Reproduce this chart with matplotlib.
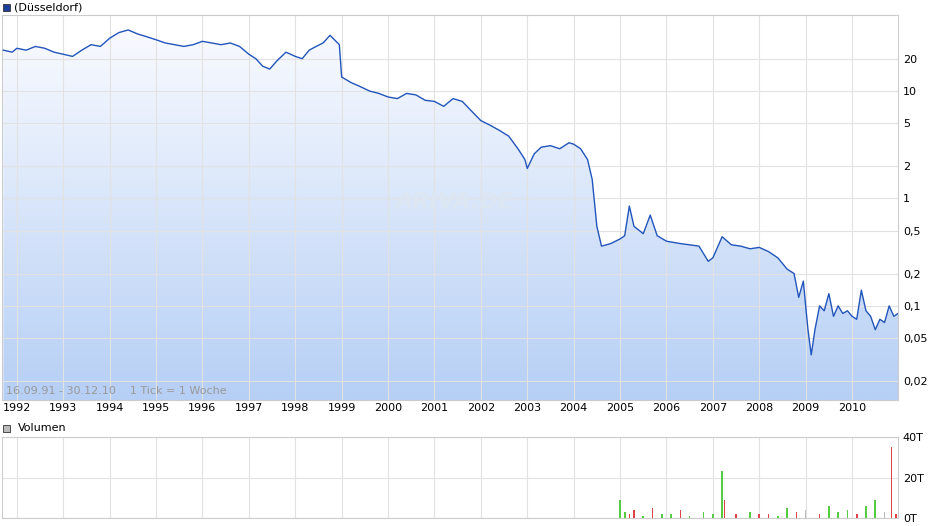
import matplotlib
matplotlib.use("Agg")
import matplotlib.pyplot as plt
import numpy as np
from matplotlib.colors import LinearSegmentedColormap

# price data (year fraction, price)
t = [1991.71,1991.9,1992.0,1992.2,1992.4,1992.6,1992.8,1993.0,1993.2,1993.4,1993.6,1993.8,1994.0,1994.2,1994.4,1994.6,
     1994.8,1995.0,1995.2,1995.4,1995.6,1995.8,1996.0,1996.2,1996.4,1996.6,1996.8,1997.0,1997.15,1997.3,1997.45,1997.6,
     1997.8,1998.0,1998.15,1998.3,1998.45,1998.6,1998.75,1998.95,1999.0,1999.2,1999.4,1999.6,1999.8,2000.0,2000.2,2000.4,
     2000.6,2000.8,2001.0,2001.2,2001.4,2001.6,2001.8,2002.0,2002.2,2002.4,2002.6,2002.8,2002.95,2003.0,2003.15,2003.3,
     2003.5,2003.7,2003.9,2004.0,2004.15,2004.3,2004.4,2004.5,2004.6,2004.8,2005.0,2005.1,2005.2,2005.3,2005.5,2005.65,
     2005.8,2006.0,2006.3,2006.5,2006.7,2006.9,2007.0,2007.2,2007.4,2007.6,2007.8,2008.0,2008.2,2008.4,2008.6,2008.75,
     2008.85,2008.95,2009.0,2009.05,2009.12,2009.2,2009.3,2009.4,2009.5,2009.6,2009.7,2009.8,2009.9,2010.0,2010.1,2010.2,
     2010.3,2010.4,2010.5,2010.6,2010.7,2010.8,2010.9,2010.99]
p = [24,23,25,24,26,25,23,22,21,24,27,26,31,35,37,34,
     32,30,28,27,26,27,29,28,27,28,26,22,20,17,16,19,
     23,21,20,24,26,28,33,27,13.5,12,11,10,9.5,8.8,8.5,9.5,
     9.2,8.2,8.0,7.2,8.5,8.0,6.5,5.3,4.8,4.3,3.8,2.9,2.3,1.9,2.6,3.0,
     3.1,2.9,3.3,3.2,2.9,2.3,1.5,0.55,0.36,0.38,0.42,0.45,0.85,0.55,0.47,0.7,
     0.45,0.40,0.38,0.37,0.36,0.26,0.28,0.44,0.37,0.36,0.34,0.35,0.32,0.28,0.22,0.20,
     0.12,0.17,0.10,0.06,0.035,0.06,0.10,0.09,0.13,0.08,0.10,0.085,0.09,0.08,0.075,0.14,
     0.09,0.08,0.06,0.075,0.07,0.10,0.08,0.085]

# volume data (year fraction, volume in T, colour code)
vt = [2005.0,2005.1,2005.2,2005.3,2005.5,2005.7,2005.9,2006.1,2006.3,2006.5,2006.8,2007.0,2007.2,2007.25,
      2007.5,2007.8,2008.0,2008.2,2008.4,2008.6,2008.8,2009.0,2009.3,2009.5,2009.7,2009.9,2010.1,2010.3,2010.5,
      2010.7,2010.85,2010.95]
vv = [9,3,2,4,1,5,2,2,4,1,3,2,23,9,2,3,2,2,1,5,3,4,2,6,3,4,2,6,9,3,35,2]
vc = ['g','g','r','r','g','r','g','g','r','g','g','g','g','r','r','g','r','r','g','g','r','grey','r','g','g','g','r','g','g','grey','r','r']
cmap = {'g':'#55cc44','r':'#dd4444','grey':'#bbbbbb'}

fig = plt.figure(figsize=(9.4,5.26), dpi=100)
ax = fig.add_axes([2/940, 1-400/526, 896/940, 385/526])
axv = fig.add_axes([2/940, 1-518/526, 896/940, 81/526])

ax.set_yscale('log')
ax.set_xlim(1991.68, 2010.99)
ax.set_ylim(0.0133, 51)
grad = np.linspace(0,1,256).reshape(-1,1)
cm = LinearSegmentedColormap.from_list('b',['#b6cff5','#fbfcff'])
im = ax.imshow(grad, aspect='auto', cmap=cm, origin='lower',
               extent=[0,1,0,1], transform=ax.transAxes, zorder=0)
poly = ax.fill_between(t, p, 0.0133, color='none')
im.set_clip_path(poly.get_paths()[0], transform=ax.transData)
ax.plot(t, p, color='#2255bb', lw=1, zorder=3)
ax.set_xlim(1991.68, 2010.99)
ax.set_ylim(0.0133, 51)

yt = [0.02,0.05,0.1,0.2,0.5,1,2,5,10,20]
yl = ['0,02','0,05','0,1','0,2','0,5','1','2','5','10','20']
years = list(range(1992,2011))
for a in (ax, axv):
    a.set_xticks(years)
    a.grid(True, color='#e2e2e2', lw=0.8)
    a.set_axisbelow(True)
    a.tick_params(length=0, labelsize=8)
    a.yaxis.tick_right()
    for s in a.spines.values():
        s.set_color('#cccccc')
ax.set_yticks(yt); ax.set_yticklabels(yl)
ax.yaxis.set_minor_locator(matplotlib.ticker.NullLocator())
ax.set_xticklabels([str(y) for y in years])
ax.tick_params(axis='x', pad=2)
ax.text(0.005, 0.015, '16.09.91 - 30.12.10    1 Tick = 1 Woche', transform=ax.transAxes,
        fontsize=8, color='#999999', zorder=4)
ax.text(0.505, 0.515, 'ARIVA.DE', transform=ax.transAxes, fontsize=16, color='#dde6f3',
        fontstyle='italic', fontweight='bold', ha='center', va='center', zorder=1)

axv.set_xlim(1991.68, 2010.99)
axv.set_ylim(0, 40)
axv.bar(vt, vv, width=0.035, color=[cmap[c] for c in vc])
axv.set_yticks([0,20,40]); axv.set_yticklabels(['0T','20T','40T'])
axv.set_xticklabels([])

fig.patches.append(matplotlib.patches.Rectangle((3/940,1-11/526),7/940,7/526,transform=fig.transFigure,
                   facecolor='#1a3f99', edgecolor='#333333', lw=0.6))
fig.text(14/940, 1-7/526, '(Düsseldorf)', fontsize=8, va='center')
fig.patches.append(matplotlib.patches.Rectangle((3/940,1-432/526),7/940,7/526,transform=fig.transFigure,
                   facecolor='#bbbbbb', edgecolor='#333333', lw=0.6))
fig.text(18/940, 1-428/526, 'Volumen', fontsize=8, va='center')
fig.savefig('out.png', dpi=100)
